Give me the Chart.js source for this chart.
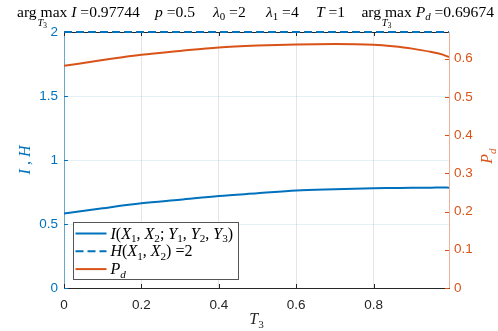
<!DOCTYPE html>
<html>
<head>
<meta charset="utf-8">
<script src="https://cdn.jsdelivr.net/npm/chart.js@4/dist/chart.umd.min.js"></script>
<style>
  html, body { margin: 0; padding: 0; background: #fff; }
  #wrap { width: 498px; height: 331px; }
</style>
</head>
<body>
<div id="wrap"><canvas id="c" width="498" height="331"></canvas></div>
<script>
// values
const t3 = [0, 0.1, 0.2, 0.3, 0.4, 0.5, 0.6, 0.7, 0.8, 0.85, 0.9, 0.95, 0.977, 0.995];
const mutualInfo = [0.581, 0.623, 0.662, 0.690, 0.719, 0.740, 0.761, 0.771, 0.779, 0.781, 0.783, 0.784, 0.785, 0.784];
const pDetect = [0.581, 0.596, 0.610, 0.620, 0.629, 0.634, 0.637, 0.638, 0.636, 0.632, 0.626, 0.617, 0.611, 0.604];
const entropyH = 2;
const xTicks = [0, 0.2, 0.4, 0.6, 0.8];
const leftTicks = [0, 0.5, 1, 1.5, 2];
const rightTicks = [0, 0.1, 0.2, 0.3, 0.4, 0.5, 0.6];

const BLUE = '#0072BD';
const ORANGE = '#D95319';
const DARK = '#262626';
const SERIF = '"Liberation Serif", "Times New Roman", serif';

const pts = ys => t3.map((x, i) => ({ x, y: ys[i] }));

// draws text with italic / subscript pieces, returns width
function rich(ctx, x, y, segs, size, color, measureOnly) {
  let cx = x;
  ctx.fillStyle = color;
  ctx.textBaseline = 'alphabetic';
  ctx.textAlign = 'left';
  for (const [t, st] of segs) {
    const sub = st.includes('s');
    const it = st.includes('i');
    const fs = sub ? size * 0.7 : size;
    ctx.font = (it ? 'italic ' : '') + fs + 'px ' + SERIF;
    if (!measureOnly) ctx.fillText(t, cx, y + (sub ? size * 0.22 : 0));
    cx += ctx.measureText(t).width;
  }
  return cx - x;
}

// x = left edge, or right edge when right is set
const titleGroups = [
  { x: 17, sub: true, segs: [['arg max ', 'r'], ['I', 'i'], [' =0.97744', 'r']] },
  { x: 155, segs: [['p', 'i'], [' =0.5', 'r']] },
  { x: 213, segs: [['λ', 'i'], ['0', 's'], [' =2', 'r']] },
  { x: 266, segs: [['λ', 'i'], ['1', 's'], [' =4', 'r']] },
  { x: 316, segs: [['T', 'i'], [' =1', 'r']] },
  { x: 494, right: true, sub: true, segs: [['arg max ', 'r'], ['P', 'i'], ['d', 'is'], [' =0.69674', 'r']] },
];

const legendItems = [
  [['I', 'i'], ['(', 'r'], ['X', 'i'], ['1', 's'], [', ', 'r'], ['X', 'i'], ['2', 's'], ['; ', 'r'],
   ['Y', 'i'], ['1', 's'], [', ', 'r'], ['Y', 'i'], ['2', 's'], [', ', 'r'], ['Y', 'i'], ['3', 's'], [')', 'r']],
  [['H', 'i'], ['(', 'r'], ['X', 'i'], ['1', 's'], [', ', 'r'], ['X', 'i'], ['2', 's'], [') =2', 'r']],
  [['P', 'i'], ['d', 'is']],
];

const decor = {
  id: 'decor',
  afterDraw(chart) {
    const ctx = chart.ctx;
    const a = chart.chartArea;
    const sx = chart.scales.x, yl = chart.scales.y, yr = chart.scales.y2;
    ctx.save();

    // box top line
    ctx.strokeStyle = DARK;
    ctx.lineWidth = 1;
    ctx.beginPath();
    ctx.moveTo(a.left, a.top + 0.5);
    ctx.lineTo(a.right, a.top + 0.5);
    ctx.stroke();

    // inward tick marks
    const tl = 4;
    ctx.strokeStyle = DARK;
    xTicks.forEach(v => {
      const px = Math.round(sx.getPixelForValue(v)) + 0.5;
      ctx.beginPath();
      ctx.moveTo(px, a.bottom); ctx.lineTo(px, a.bottom - tl);
      ctx.moveTo(px, a.top); ctx.lineTo(px, a.top + tl);
      ctx.stroke();
    });
    ctx.strokeStyle = BLUE;
    leftTicks.forEach(v => {
      const py = Math.round(yl.getPixelForValue(v)) + 0.5;
      ctx.beginPath(); ctx.moveTo(a.left, py); ctx.lineTo(a.left + tl, py); ctx.stroke();
    });
    ctx.strokeStyle = ORANGE;
    rightTicks.forEach(v => {
      const py = Math.round(yr.getPixelForValue(v)) + 0.5;
      ctx.beginPath(); ctx.moveTo(a.right, py); ctx.lineTo(a.right - tl, py); ctx.stroke();
    });

    // redraw the H line on top of the box edge
    const hMeta = chart.getDatasetMeta(1);
    ctx.strokeStyle = BLUE;
    ctx.lineWidth = 2;
    ctx.setLineDash([8, 4]);
    ctx.beginPath();
    hMeta.data.forEach((p, i) => i ? ctx.lineTo(p.x, p.y) : ctx.moveTo(p.x, p.y));
    ctx.stroke();
    ctx.setLineDash([]);

    // title
    const ts = 15.6;
    titleGroups.forEach(g => {
      let gx = g.x;
      if (g.right) gx -= rich(ctx, 0, 0, g.segs, ts, '#000', true);
      rich(ctx, gx, 16.5, g.segs, ts, '#000');
      if (g.sub) {
        const w = rich(ctx, 0, 0, [['arg max', 'r']], ts, '#000', true);
        const sw = rich(ctx, 0, 0, [['T', 'i'], ['3', 's']], 10.5, '#000', true);
        rich(ctx, gx + w / 2 - sw / 2, 26, [['T', 'i'], ['3', 's']], 10.5, '#000');
      }
    });

    // axis labels
    const xl = [['T', 'i'], ['3', 's']];
    const xw = rich(ctx, 0, 0, xl, 16, DARK, true);
    rich(ctx, (a.left + a.right) / 2 - xw / 2, 324, xl, 16, DARK);

    const yLab = [['I', 'i'], [' , ', 'r'], ['H', 'i']];
    ctx.save();
    ctx.translate(30, (a.top + a.bottom) / 2);
    ctx.rotate(-Math.PI / 2);
    const yw = rich(ctx, 0, 0, yLab, 16, BLUE, true);
    rich(ctx, -yw / 2, 0, yLab, 16, BLUE);
    ctx.restore();

    const y2Lab = [['P', 'i'], ['d', 'is']];
    ctx.save();
    ctx.translate(492, (a.top + a.bottom) / 2 - 4);
    ctx.rotate(-Math.PI / 2);
    const y2w = rich(ctx, 0, 0, y2Lab, 16, ORANGE, true);
    rich(ctx, -y2w / 2, 0, y2Lab, 16, ORANGE);
    ctx.restore();

    // legend
    const lx = a.left + 9.5, ly = 222.5, lw = 165, lh = 57;
    ctx.fillStyle = '#fff';
    ctx.fillRect(lx, ly, lw, lh);
    ctx.strokeStyle = '#555';
    ctx.lineWidth = 1;
    ctx.strokeRect(lx, ly, lw, lh);
    chart.data.datasets.forEach((ds, i) => {
      const ry = ly + 11 + i * 17.8;
      ctx.strokeStyle = ds.borderColor;
      ctx.lineWidth = 2;
      ctx.setLineDash(ds.borderDash || []);
      ctx.beginPath(); ctx.moveTo(lx + 2, ry); ctx.lineTo(lx + 33, ry); ctx.stroke();
      ctx.setLineDash([]);
      rich(ctx, lx + 37, ry + 5, legendItems[i], 16, '#000');
    });

    ctx.restore();
  }
};

const fmt = v => String(+v.toFixed(2));
const tickFont = { family: '"Liberation Sans", Arial, sans-serif', size: 13.5 };

new Chart(document.getElementById('c'), {
  type: 'line',
  data: {
    datasets: [
      { data: pts(mutualInfo), yAxisID: 'y', borderColor: BLUE, borderWidth: 2,
        pointRadius: 0, cubicInterpolationMode: 'monotone' },
      { data: t3.map(x => ({ x, y: entropyH })), yAxisID: 'y', borderColor: BLUE, borderWidth: 2,
        borderDash: [8, 4], pointRadius: 0, clip: 4 },
      { data: pts(pDetect), yAxisID: 'y2', borderColor: ORANGE, borderWidth: 2,
        pointRadius: 0, cubicInterpolationMode: 'monotone' },
    ]
  },
  options: {
    responsive: false,
    animation: false,
    events: [],
    layout: { padding: { top: 32, left: 0, right: 0, bottom: 0 } },
    plugins: { legend: { display: false }, tooltip: { enabled: false } },
    scales: {
      x: {
        type: 'linear', min: 0, max: 0.995,
        afterFit: s => { s.height = 43; },
        afterBuildTicks: s => { s.ticks = xTicks.map(value => ({ value })); },
        ticks: { callback: fmt, color: DARK, padding: 9, maxRotation: 0, font: tickFont },
        grid: { color: 'rgba(38,38,38,0.12)', drawTicks: false },
        border: { color: DARK }
      },
      y: {
        position: 'left', min: 0, max: 2,
        afterFit: s => { s.width = 64; },
        afterBuildTicks: s => { s.ticks = leftTicks.map(value => ({ value })); },
        ticks: { callback: fmt, color: BLUE, padding: 6, font: tickFont },
        grid: { color: 'rgba(0,114,189,0.1)', drawTicks: false },
        border: { color: 'rgba(0,114,189,0.55)' }
      },
      y2: {
        position: 'right', min: 0, max: 0.6695,
        afterFit: s => { s.width = 49; },
        afterBuildTicks: s => { s.ticks = rightTicks.map(value => ({ value })); },
        ticks: { callback: fmt, color: ORANGE, padding: 5, font: tickFont },
        grid: { drawOnChartArea: false, drawTicks: false },
        border: { color: 'rgba(217,83,25,0.45)' }
      }
    }
  },
  plugins: [decor]
});
</script>
</body>
</html>
